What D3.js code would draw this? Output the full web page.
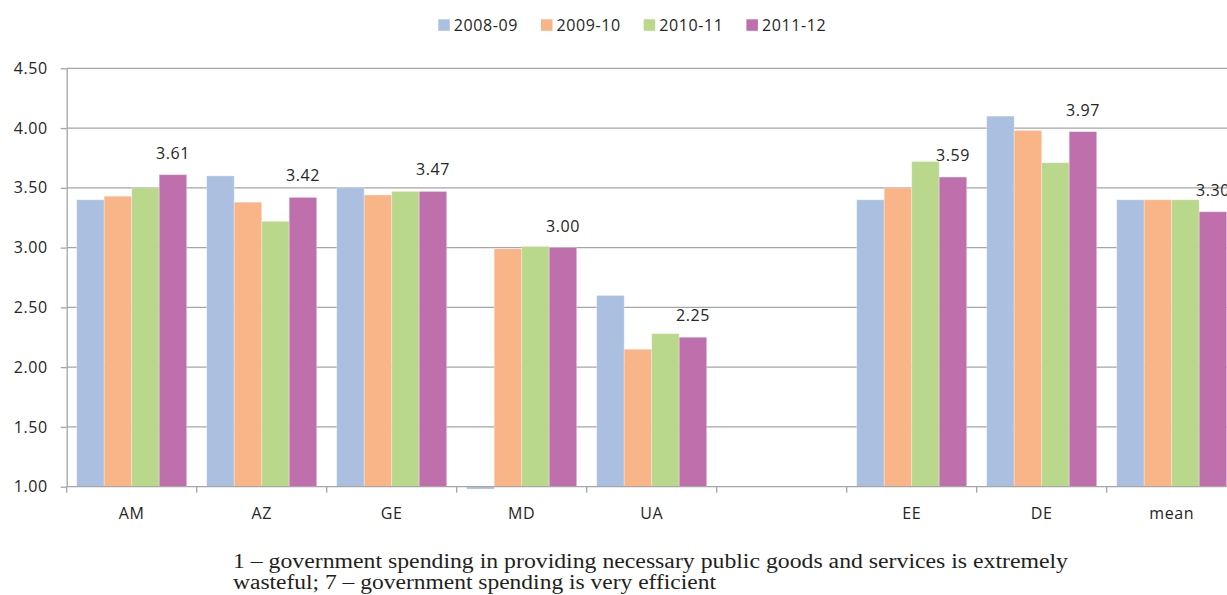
<!DOCTYPE html>
<html>
<head>
<meta charset="utf-8">
<script src="https://cdn.jsdelivr.net/npm/d3@7"></script>
<style>
  html, body { margin: 0; padding: 0; background: #fff; }
  svg { display: block; }
  .tick text, .lbl, .legend text { font-family: "Open Sans", sans-serif; fill: #262626; }
</style>
</head>
<body>
<svg id="chart" width="1227" height="595"></svg>
<script>
// Government spending efficiency index (1–7 scale), by country and survey year
const categories = ["AM", "AZ", "GE", "MD", "UA", "", "EE", "DE", "mean"];
const seriesNames = ["2008-09", "2009-10", "2010-11", "2011-12"];
const v2008 = [3.40, 3.60, 3.50, 0.98, 2.60, null, 3.40, 4.10, 3.40];
const v2009 = [3.43, 3.38, 3.44, 2.99, 2.15, null, 3.50, 3.98, 3.40];
const v2010 = [3.50, 3.22, 3.47, 3.01, 2.28, null, 3.72, 3.71, 3.40];
const v2011 = [3.61, 3.42, 3.47, 3.00, 2.25, null, 3.59, 3.97, 3.30];
const yTicks = [1.00, 1.50, 2.00, 2.50, 3.00, 3.50, 4.00, 4.50];
const captionLines = [
  "1 \u2013 government spending in providing necessary public goods and services is extremely",
  "wasteful; 7 \u2013 government spending is very efficient"
];

const colors = ["#abc0e1", "#f9b488", "#b9d88c", "#bf6fab"];
const seriesValues = [v2008, v2009, v2010, v2011];

const svg = d3.select("#chart");
const plotLeft = 66.7, plotTop = 68.3, plotBottom = 486.7;
const step = 130;
const plotRight = plotLeft + step * categories.length;

// category keys must be unique for the band scale; blank slot gets its own key
const keys = categories.map((c, i) => c || "blank" + i);

const x = d3.scaleBand()
  .domain(keys)
  .range([plotLeft, plotRight])
  .paddingInner(20 / step)
  .paddingOuter(10 / step);

const xs = d3.scaleBand()
  .domain(seriesNames)
  .range([0, x.bandwidth()])
  .padding(0);

const y = d3.scaleLinear().domain([1, 4.5]).range([plotBottom, plotTop]);

// horizontal gridlines
svg.append("g")
  .selectAll("line")
  .data(yTicks.filter(t => t > 1))
  .join("line")
  .attr("x1", plotLeft).attr("x2", 1227)
  .attr("y1", d => y(d)).attr("y2", d => y(d))
  .attr("stroke", "#a6a6a6").attr("stroke-width", 1.3);

// bars
const rows = keys.map((k, i) => ({ key: k, vals: seriesValues.map(s => s[i]) }));
const groups = svg.append("g")
  .selectAll("g")
  .data(rows)
  .join("g")
  .attr("transform", d => `translate(${x(d.key)},0)`);

groups.selectAll("rect")
  .data(d => d.vals.map((v, j) => ({ v, s: seriesNames[j], j })).filter(e => e.v != null))
  .join("rect")
  .attr("x", e => xs(e.s))
  .attr("width", xs.bandwidth())
  .attr("y", e => Math.min(y(e.v), y(1)))
  .attr("height", e => Math.abs(y(1) - y(e.v)))
  .attr("fill", e => colors[e.j])
  .attr("stroke", "rgba(255,255,255,0.35)")
  .attr("stroke-width", 0.8);

// value labels on the 2011-12 bars
groups.filter(d => d.vals[3] != null)
  .append("text")
  .attr("class", "lbl")
  .attr("x", xs("2011-12") + xs.bandwidth() / 2)
  .attr("y", d => y(d.vals[3]) - 16)
  .attr("text-anchor", "middle")
  .attr("font-size", 16)
  .attr("letter-spacing", 0.6)
  .text(d => d3.format(".2f")(d.vals[3]));

// y axis
const yAxis = svg.append("g")
  .attr("transform", `translate(${plotLeft},0)`)
  .call(d3.axisLeft(y).tickValues(yTicks).tickFormat(d3.format(".2f"))
    .tickSize(6).tickSizeOuter(0).tickPadding(13));
yAxis.select(".domain").attr("stroke", "#a6a6a6").attr("stroke-width", 1.3);
yAxis.selectAll(".tick line").attr("stroke", "#a6a6a6").attr("stroke-width", 1.3);
yAxis.selectAll(".tick text").attr("font-size", 16).attr("letter-spacing", 0.6);

// x axis baseline, category boundary ticks and labels
const xAxis = svg.append("g");
xAxis.append("line")
  .attr("x1", plotLeft).attr("x2", 1227)
  .attr("y1", y(1)).attr("y2", y(1))
  .attr("stroke", "#a6a6a6").attr("stroke-width", 1.3);
const bounds = d3.range(categories.length + 1).map(i => plotLeft + i * x.step());
xAxis.selectAll("line.bt")
  .data(bounds)
  .join("line")
  .attr("class", "bt")
  .attr("x1", d => d).attr("x2", d => d)
  .attr("y1", y(1)).attr("y2", y(1) + 6)
  .attr("stroke", "#a6a6a6").attr("stroke-width", 1.3);
xAxis.selectAll("text")
  .data(keys)
  .join("text")
  .attr("class", "lbl")
  .attr("x", d => x(d) + x.bandwidth() / 2)
  .attr("y", 519)
  .attr("text-anchor", "middle")
  .attr("font-size", 16)
  .attr("letter-spacing", 0.6)
  .text((d, i) => categories[i]);

// legend
const legend = svg.append("g").attr("class", "legend");
const li = legend.selectAll("g")
  .data(seriesNames)
  .join("g")
  .attr("transform", (d, i) => `translate(${438.3 + i * 102.7},19.3)`);
li.append("rect")
  .attr("width", 11.5).attr("height", 11.5)
  .attr("fill", (d, i) => colors[i]);
li.append("text")
  .attr("x", 15.5).attr("y", 11.3)
  .attr("font-size", 16)
  .attr("letter-spacing", 0.6)
  .text(d => d);

// scale description below the chart
const capWidths = [835, 483];
svg.append("g")
  .selectAll("text")
  .data(captionLines)
  .join("text")
  .attr("x", 233)
  .attr("y", (d, i) => 568 + i * 21)
  .attr("font-family", "'Liberation Serif', serif")
  .attr("font-size", 20)
  .attr("fill", "#231f20")
  .attr("textLength", (d, i) => capWidths[i])
  .attr("lengthAdjust", "spacingAndGlyphs")
  .text(d => d);
</script>
</body>
</html>
